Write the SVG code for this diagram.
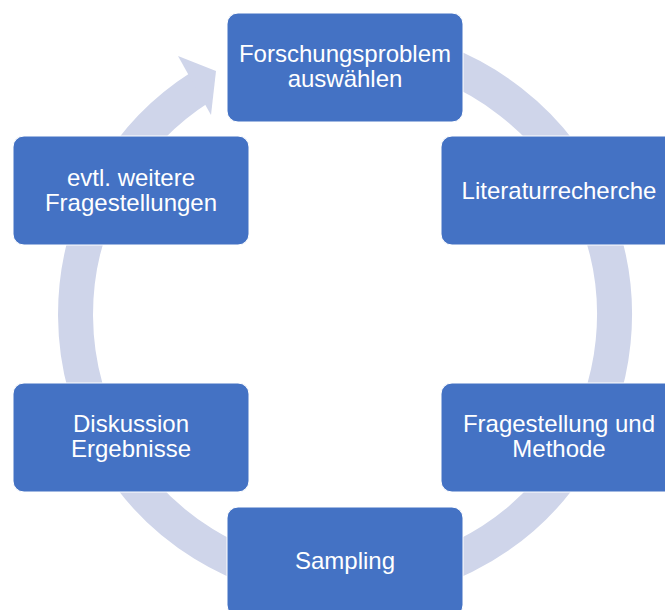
<svg xmlns="http://www.w3.org/2000/svg" width="665" height="610" viewBox="0 0 665 610">
<style>
.node rect{fill:#4472C4;stroke:#FFFFFF;stroke-width:1}
.node text{fill:#FFFFFF;font-family:"Liberation Sans",Arial,sans-serif;font-size:24px;text-anchor:middle}
.ring{fill:none;stroke:#CFD5EA;stroke-width:35;stroke-linecap:butt}
.head{fill:#CFD5EA}
</style>
<rect width="665" height="610" fill="#FFFFFF"/>
<g id="connectors">
<path class="ring" d="M252.83,61.25 A269.5,269.5 0 1 1 200.20,87.21"/>
<polygon class="head" points="178,56 216,71 211,115"/>
</g>
<g id="n1" class="node"><rect x="227" y="13" width="236" height="109" rx="11"/><text x="345" y="62">Forschungsproblem</text><text x="345" y="87">auswählen</text></g>
<g id="n2" class="node"><rect x="441" y="136" width="236" height="109" rx="11"/><text x="559" y="199">Literaturrecherche</text></g>
<g id="n3" class="node"><rect x="441" y="383" width="236" height="109" rx="11"/><text x="559" y="432">Fragestellung und</text><text x="559" y="457">Methode</text></g>
<g id="n4" class="node"><rect x="227" y="507" width="236" height="109" rx="11"/><text x="345" y="569">Sampling</text></g>
<g id="n5" class="node"><rect x="13" y="383" width="236" height="109" rx="11"/><text x="131" y="432">Diskussion</text><text x="131" y="457">Ergebnisse</text></g>
<g id="n6" class="node"><rect x="13" y="136" width="236" height="109" rx="11"/><text x="131" y="186">evtl. weitere</text><text x="131" y="211">Fragestellungen</text></g>
</svg>
